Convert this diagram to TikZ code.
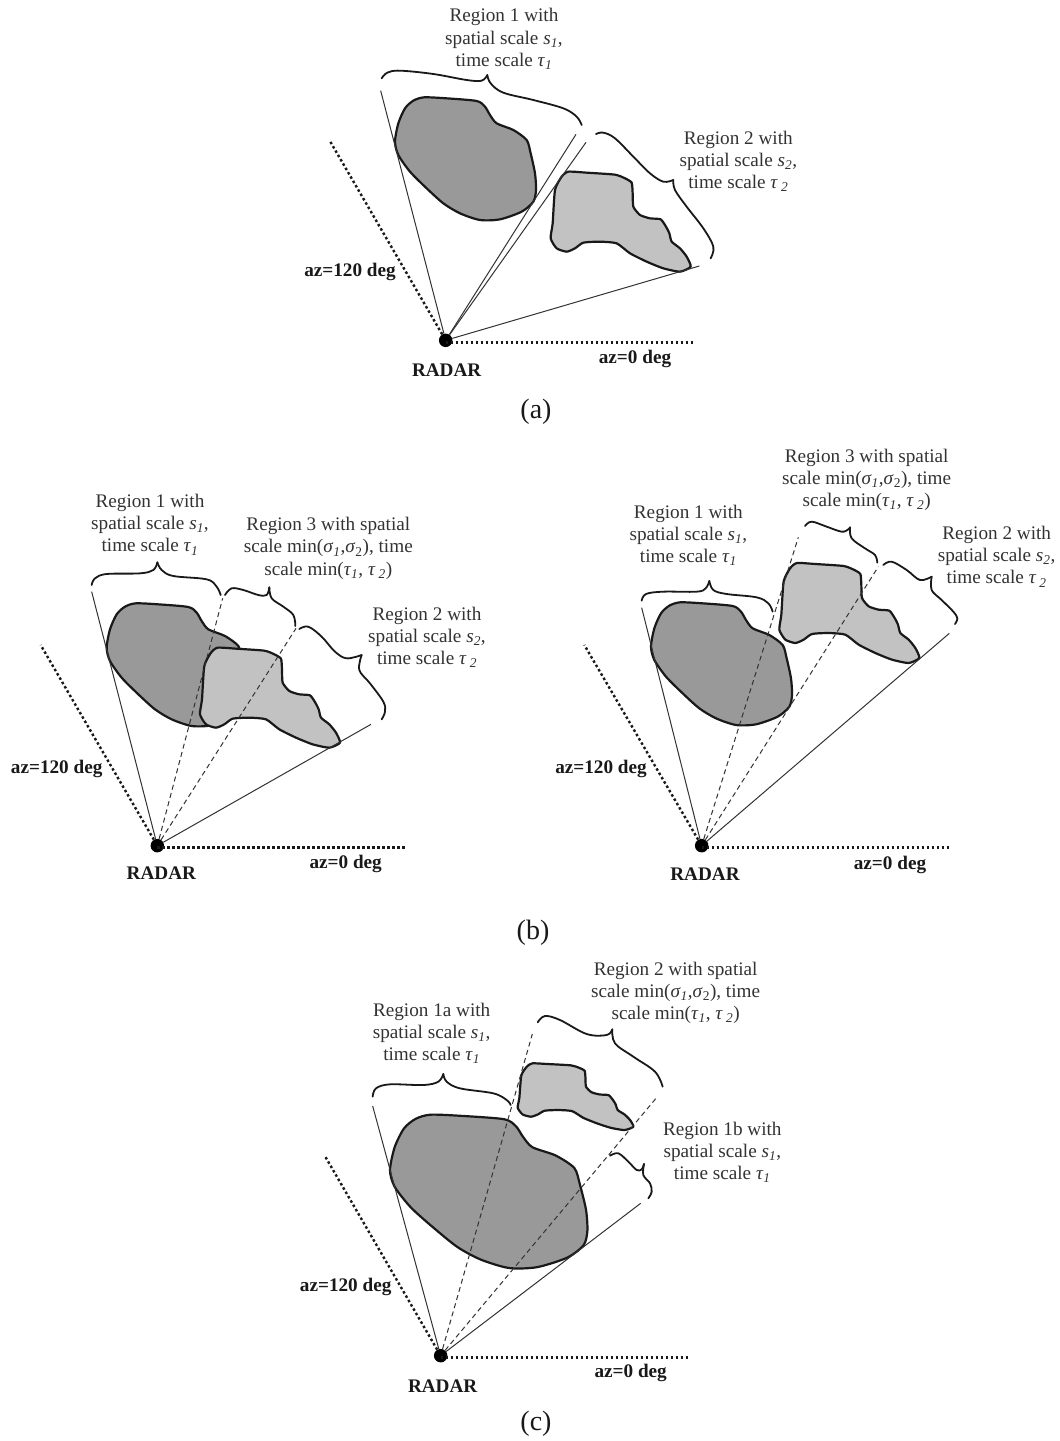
\documentclass[tikz,border=0pt]{standalone}
\usepackage{fontspec}
\setmainfont{Liberation Serif}
\tikzset{
  panel/.style={x=0.33333pt,y=-0.33333pt},
  darkblob/.style={draw=black!90,fill=black!40,line width=2.2pt,line join=round},
  lightblob/.style={draw=black!90,fill=black!24,line width=2.2pt,line join=round},
  thinline/.style={draw=black!80,line width=1pt},
  dashline/.style={draw=black!80,line width=1pt,dash pattern=on 5pt off 3.5pt},
  dotline/.style={draw=black!90,line width=2.4pt,dash pattern=on 2.5pt off 2.5pt},
  brc/.style={draw=black!90,line width=1.8pt,line cap=round},
  regionlabel/.style={align=center,inner sep=0pt,text=black!80,font=\fontsize{19.2}{22.2}\selectfont},
  boldlabel/.style={inner sep=0pt,text=black!90,font=\fontsize{19.2}{22}\selectfont\bfseries},
  caplabel/.style={inner sep=0pt,text=black!90,font=\fontsize{28}{30}\selectfont},
  radardot/.style={circle,fill=black,inner sep=0pt,minimum size=13.5pt}
}
\newcommand\dk{\draw[darkblob] plot[smooth cycle,tension=.45] coordinates {(372,292)(440,295)(530,303)(555,320)(570,345)(590,370)(640,390)(680,420)(692,460)(705,520)(708,570)(700,605)(665,635)(600,658)(540,660)(480,640)(430,610)(380,565)(330,515)(295,465)(285,425)(295,370)(315,325)(340,302)};}
\newcommand\lt{\draw[lightblob] plot[smooth cycle,tension=.35] coordinates {(805,515)(860,518)(945,524)(975,535)(995,548)(998,580)(1000,620)(1020,645)(1050,655)(1082,658)(1098,680)(1108,700)(1115,725)(1140,745)(1160,770)(1172,800)(1140,815)(1090,805)(1040,785)(990,760)(950,730)(900,725)(850,728)(825,745)(800,755)(770,745)(752,715)(758,670)(765,570)(785,530)};}
\newcommand\curly[2]{\draw[brc] plot[smooth,tension=.6] coordinates {#1};\draw[brc] plot[smooth,tension=.6] coordinates {#2};}
\newcommand\sbi[1]{\textsubscript{\textit{#1}}}
\newcommand\tauo{\textit{τ}\sbi{1}}
\newcommand\taut{\textit{τ}\,\sbi{2}}
\newcommand\regs[3]{Region #1 with\\spatial scale \textit{s}\sbi{#2},\\time scale #3}
\newcommand\regm[1]{Region #1 with spatial\\scale min(\textit{σ}\sbi{1},\textit{σ}\textsubscript{2}), time\\scale min(\tauo, \taut)}
\begin{document}
\begin{tikzpicture}[x=1pt,y=-1pt]
\useasboundingbox (0,0) rectangle (1060,1441);
\fill[white] (0,0) rectangle (1060,1441);
% ---------- (a)
\begin{scope}[shift={(300,0)},panel]
\dk
\lt
\node[radardot] (ar) at (437,1021) {};
\coordinate (a1) at (242,272);
\coordinate (a2) at (828,403);
\coordinate (a3) at (858,427);
\coordinate (a4) at (1198,798);
\coordinate (a5) at (88,420);
\coordinate (a6) at (1185,1027);
\draw[thinline] (ar) -- (a1);
\draw[thinline] (ar) -- (a2);
\draw[thinline] (ar) -- (a3);
\draw[thinline] (ar) -- (a4);
\draw[dotline] (ar) -- (a5);
\draw[dotline] (ar |- a6) -- (a6);
\curly{(245,235)(262,218)(300,212)(400,222)(500,240)(545,242)(562,225)}{(562,225)(572,250)(610,278)(700,300)(790,325)(830,350)(845,375)}
\curly{(888,402)(910,398)(945,415)(1000,470)(1050,520)(1090,545)(1120,540)}{(1120,540)(1125,570)(1160,620)(1210,685)(1240,740)(1232,775)}
\node[regionlabel] (at1) at (612,117) {\regs{1}{1}{\tauo}};
\node[regionlabel] (at2) at (1315,484) {\regs{2}{2}{\taut}};
\node[boldlabel] (az1) at (150,815) {az=120 deg};
\node[boldlabel] (az2) at (1005,1077) {az=0 deg};
\node[boldlabel] (arl) at (440,1112) {RADAR};
\end{scope}
\node[caplabel] (capa) at (536,412) {(a)};
% ---------- (b) left
\begin{scope}[shift={(0,480)},panel]
\begin{scope}[shift={(35,78)}]\dk\end{scope}
\begin{scope}[shift={(-152,-12)}]\lt\end{scope}
\node[radardot] (br) at (472,1097) {};
\coordinate (b1) at (275,335);
\coordinate (b2) at (668,355);
\coordinate (b3) at (888,445);
\coordinate (b4) at (1113,733);
\coordinate (b5) at (122,495);
\coordinate (b6) at (1220,1103);
\draw[thinline] (br) -- (b1);
\draw[dashline] (br) -- (b2);
\draw[dashline] (br) -- (b3);
\draw[thinline] (br) -- (b4);
\draw[dotline] (br) -- (b5);
\draw[dotline] (br |- b6) -- (b6);
\curly{(275,315)(285,295)(320,282)(420,280)(460,270)(472,247)}{(472,247)(485,270)(520,288)(620,298)(650,320)(662,345)}
\curly{(675,345)(695,325)(730,330)(775,345)(800,345)(808,322)}{(808,322)(815,355)(850,380)(880,405)(886,438)}
\curly{(898,447)(925,440)(965,470)(1005,515)(1040,535)(1085,525)}{(1085,525)(1078,570)(1110,610)(1150,665)(1155,695)(1145,718)}
\node[regionlabel] (bt1) at (450,134) {\regs{1}{1}{\tauo}};
\node[regionlabel] (bt3) at (985,205) {\regm{3}};
\node[regionlabel] (bt2) at (1281,472) {\regs{2}{2}{\taut}};
\node[boldlabel] (bz1) at (170,867) {az=120 deg};
\node[boldlabel] (bz2) at (1037,1153) {az=0 deg};
\node[boldlabel] (brl) at (484,1181) {RADAR};
\end{scope}
% ---------- (b) right
\begin{scope}[shift={(540,440)},panel]
\begin{scope}[shift={(48,195)}]\dk\end{scope}
\begin{scope}[shift={(-34,-146)}]\lt\end{scope}
\node[radardot] (cr) at (485,1217) {};
\coordinate (c1) at (305,503);
\coordinate (c2) at (775,292);
\coordinate (c3) at (1015,380);
\coordinate (c4) at (1228,580);
\coordinate (c5) at (133,615);
\coordinate (c6) at (1232,1222);
\draw[thinline] (cr) -- (c1);
\draw[dashline] (cr) -- (c2);
\draw[dashline] (cr) -- (c3);
\draw[thinline] (cr) -- (c4);
\draw[dotline] (cr) -- (c5);
\draw[dotline] (cr |- c6) -- (c6);
\curly{(305,482)(318,462)(370,455)(470,455)(497,445)(508,423)}{(508,423)(520,450)(560,462)(650,472)(685,490)(698,515)}
\curly{(795,258)(815,245)(860,260)(905,275)(925,268)(930,262)}{(930,262)(935,295)(975,325)(1005,345)(1012,368)}
\curly{(1030,375)(1055,365)(1100,390)(1140,420)(1175,410)}{(1175,410)(1175,450)(1205,480)(1240,515)(1252,535)(1245,552)}
\node[regionlabel] (ct1) at (445,286) {\regs{1}{1}{\tauo}};
\node[regionlabel] (ct3) at (980,120) {\regm{3}};
\node[regionlabel] (ct2) at (1370,350) {\regs{2}{2}{\taut}};
\node[boldlabel] (cz1) at (183,987) {az=120 deg};
\node[boldlabel] (cz2) at (1050,1275) {az=0 deg};
\node[boldlabel] (crl) at (495,1302) {RADAR};
\end{scope}
\node[caplabel] (capb) at (533,933) {(b)};
% ---------- (c)
\begin{scope}[shift={(290,960)},panel]
\begin{scope}[shift={(-99,99)},xscale=1.4,yscale=1.25]\dk\end{scope}
\begin{scope}[shift={(62,-33.5)},xscale=0.826,yscale=0.667]\lt\end{scope}
\node[radardot] (dr) at (452,1187) {};
\coordinate (d1) at (248,438);
\coordinate (d2) at (727,222);
\coordinate (d3) at (1098,415);
\coordinate (d4) at (1052,730);
\coordinate (d5) at (103,585);
\coordinate (d6) at (1200,1192);
\draw[thinline] (dr) -- (d1);
\draw[dashline] (dr) -- (d2);
\draw[dashline] (dr) -- (d3);
\draw[thinline] (dr) -- (d4);
\draw[dotline] (dr) -- (d5);
\draw[dotline] (dr |- d6) -- (d6);
\curly{(248,410)(258,385)(300,373)(400,375)(445,365)(460,342)}{(460,342)(470,365)(510,385)(610,400)(650,420)(662,435)}
\curly{(743,187)(765,168)(810,180)(890,222)(950,225)(967,208)}{(967,208)(975,250)(1030,290)(1095,335)(1118,380)}
\curly{(960,587)(985,580)(1015,605)(1040,630)(1055,628)(1062,612)}{(1062,612)(1060,645)(1080,670)(1085,695)(1075,715)}
\node[regionlabel] (dt1) at (425,220) {\regs{1a}{1}{\tauo}};
\node[regionlabel] (dt3) at (1157,98) {\regm{2}};
\node[regionlabel] (dt2) at (1297,577) {\regs{1b}{1}{\tauo}};
\node[boldlabel] (dz1) at (167,980) {az=120 deg};
\node[boldlabel] (dz2) at (1022,1240) {az=0 deg};
\node[boldlabel] (drl) at (458,1280) {RADAR};
\end{scope}
\node[caplabel] (capc) at (536,1424) {(c)};
\end{tikzpicture}
\end{document}
